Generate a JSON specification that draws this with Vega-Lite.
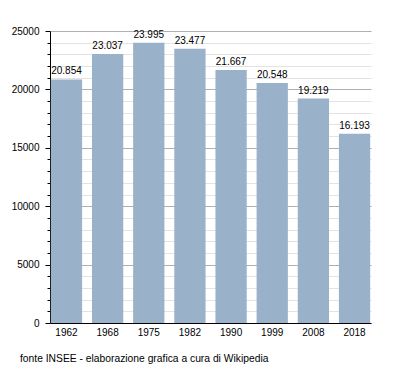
{
  "$schema": "https://vega.github.io/schema/vega-lite/v6.json",
  "autosize": "none",
  "width": 321,
  "height": 292,
  "padding": {"left": 50, "top": 31, "right": 29, "bottom": 50},
  "background": "white",
  "config": {
    "view": {"stroke": null},
    "font": "Liberation Sans",
    "axis": {"labelFont": "Liberation Sans", "labelFontSize": 10, "labelColor": "#000"}
  },
  "title": {
    "text": "fonte INSEE - elaborazione grafica a cura di Wikipedia",
    "orient": "bottom",
    "anchor": "start",
    "frame": "group",
    "font": "Liberation Sans",
    "fontSize": 10.3,
    "fontWeight": "normal",
    "color": "#000",
    "dx": -30,
    "offset": 17
  },
  "data": {
    "values": [
      {"anno": "1962", "abitanti": 20854, "etichetta": "20.854"},
      {"anno": "1968", "abitanti": 23037, "etichetta": "23.037"},
      {"anno": "1975", "abitanti": 23995, "etichetta": "23.995"},
      {"anno": "1982", "abitanti": 23477, "etichetta": "23.477"},
      {"anno": "1990", "abitanti": 21667, "etichetta": "21.667"},
      {"anno": "1999", "abitanti": 20548, "etichetta": "20.548"},
      {"anno": "2008", "abitanti": 19219, "etichetta": "19.219"},
      {"anno": "2018", "abitanti": 16193, "etichetta": "16.193"}
    ]
  },
  "encoding": {
    "x": {
      "field": "anno",
      "type": "ordinal",
      "scale": {"paddingInner": 0.24, "paddingOuter": 0.02},
      "axis": {
        "title": null,
        "labelAngle": 0,
        "ticks": false,
        "domainColor": "#000",
        "labelPadding": 4
      }
    },
    "y": {
      "field": "abitanti",
      "type": "quantitative",
      "scale": {"domain": [0, 25000], "nice": false},
      "axis": {
        "title": null,
        "values": [0,1000,2000,3000,4000,5000,6000,7000,8000,9000,10000,11000,12000,13000,14000,15000,16000,17000,18000,19000,20000,21000,22000,23000,24000,25000],
        "labelExpr": "datum.value % 5000 === 0 ? format(datum.value, 'd') : ''",
        "labelOverlap": false,
        "labelPadding": 6,
        "domainColor": "#000",
        "tickColor": "#000",
        "tickSize": {"condition": {"test": "datum.value % 5000 === 0", "value": 5}, "value": 3},
        "gridColor": {"condition": {"test": "datum.value % 5000 === 0", "value": "#b0b0b0"}, "value": "#e3e3e3"}
      }
    }
  },
  "layer": [
    {"mark": {"type": "bar", "color": "#9ab1ca"}},
    {
      "mark": {"type": "text", "baseline": "bottom", "dy": -3, "fontSize": 10, "color": "#000", "font": "Liberation Sans"},
      "encoding": {"text": {"field": "etichetta"}}
    }
  ]
}
